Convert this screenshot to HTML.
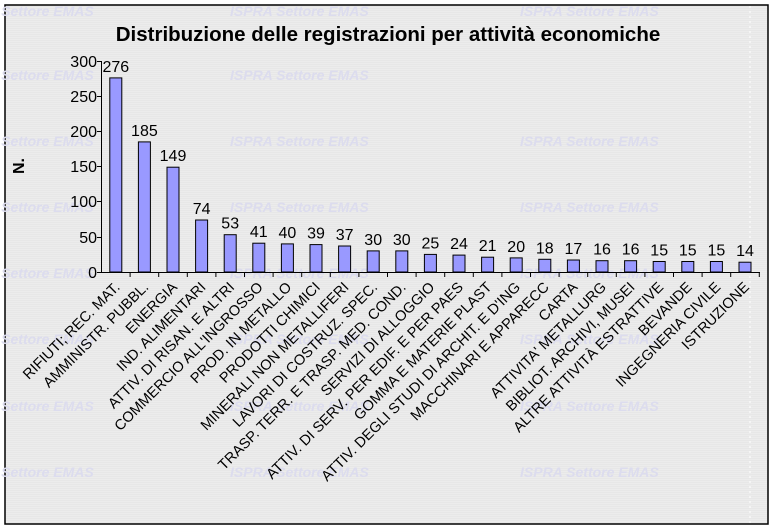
<!DOCTYPE html>
<html><head><meta charset="utf-8"><style>
html,body{margin:0;padding:0;background:#fff;}
svg{display:block;font-family:"Liberation Sans",Arial,sans-serif;}
</style></head><body>
<svg width="776" height="531" viewBox="0 0 776 531" xmlns="http://www.w3.org/2000/svg">
<defs>
<pattern id="ln" width="4" height="2" patternUnits="userSpaceOnUse">
<rect width="4" height="2" fill="#ececec"/><rect width="4" height="1" fill="#e7e7e7"/>
</pattern>
</defs>
<rect x="0" y="0" width="776" height="531" fill="#fff"/>
<rect x="5" y="5" width="763" height="519" fill="url(#ln)" stroke="#000" stroke-width="1.5"/>
<line x1="750" y1="6" x2="750" y2="523" stroke="#fff" stroke-dasharray="2,3"/>
<g font-style="italic" font-weight="bold" font-size="14" fill="#dcdcee">
<text x="-45" y="16">ISPRA Settore EMAS</text><text x="230" y="16">ISPRA Settore EMAS</text><text x="520" y="16">ISPRA Settore EMAS</text>
<text x="-45" y="80">ISPRA Settore EMAS</text><text x="230" y="80">ISPRA Settore EMAS</text>
<text x="-45" y="146">ISPRA Settore EMAS</text><text x="230" y="146">ISPRA Settore EMAS</text><text x="520" y="146">ISPRA Settore EMAS</text>
<text x="-45" y="212">ISPRA Settore EMAS</text><text x="230" y="212">ISPRA Settore EMAS</text><text x="520" y="212">ISPRA Settore EMAS</text>
<text x="-45" y="278">ISPRA Settore EMAS</text><text x="230" y="278">ISPRA Settore EMAS</text><text x="520" y="278">ISPRA Settore EMAS</text>
<text x="-45" y="344">ISPRA Settore EMAS</text><text x="230" y="344">ISPRA Settore EMAS</text><text x="520" y="344">ISPRA Settore EMAS</text>
<text x="-45" y="411">ISPRA Settore EMAS</text><text x="230" y="411">ISPRA Settore EMAS</text><text x="520" y="411">ISPRA Settore EMAS</text>
<text x="-45" y="477">ISPRA Settore EMAS</text><text x="230" y="477">ISPRA Settore EMAS</text><text x="520" y="477">ISPRA Settore EMAS</text>
</g>
<text x="388" y="41" text-anchor="middle" font-size="20.5" font-weight="bold">Distribuzione delle registrazioni per attività economiche</text>
<text transform="translate(24,166) rotate(-90)" text-anchor="middle" font-size="16" font-weight="bold">N.</text>
<g font-size="16" text-anchor="end" fill="#000">
<text x="97" y="278">0</text><text x="97" y="243">50</text><text x="97" y="207">100</text>
<text x="97" y="172">150</text><text x="97" y="137">200</text><text x="97" y="102">250</text><text x="97" y="67">300</text>
</g>
<g stroke="#000" stroke-width="1">
<line x1="101.5" y1="61" x2="101.5" y2="272"/>
<line x1="101.5" y1="272.5" x2="760" y2="272.5"/>
<line x1="97" y1="61.5" x2="101.5" y2="61.5"/><line x1="97" y1="96.5" x2="101.5" y2="96.5"/><line x1="97" y1="131.5" x2="101.5" y2="131.5"/><line x1="97" y1="166.5" x2="101.5" y2="166.5"/><line x1="97" y1="201.5" x2="101.5" y2="201.5"/><line x1="97" y1="237.5" x2="101.5" y2="237.5"/><line x1="97" y1="272.5" x2="101.5" y2="272.5"/>
<line x1="130.1" y1="272" x2="130.1" y2="277"/><line x1="158.7" y1="272" x2="158.7" y2="277"/><line x1="187.3" y1="272" x2="187.3" y2="277"/><line x1="215.9" y1="272" x2="215.9" y2="277"/><line x1="244.5" y1="272" x2="244.5" y2="277"/><line x1="273.1" y1="272" x2="273.1" y2="277"/><line x1="301.7" y1="272" x2="301.7" y2="277"/><line x1="330.3" y1="272" x2="330.3" y2="277"/><line x1="358.9" y1="272" x2="358.9" y2="277"/><line x1="387.5" y1="272" x2="387.5" y2="277"/><line x1="416.1" y1="272" x2="416.1" y2="277"/><line x1="444.7" y1="272" x2="444.7" y2="277"/><line x1="473.3" y1="272" x2="473.3" y2="277"/><line x1="501.9" y1="272" x2="501.9" y2="277"/><line x1="530.5" y1="272" x2="530.5" y2="277"/><line x1="559.1" y1="272" x2="559.1" y2="277"/><line x1="587.7" y1="272" x2="587.7" y2="277"/><line x1="616.3" y1="272" x2="616.3" y2="277"/><line x1="644.9" y1="272" x2="644.9" y2="277"/><line x1="673.5" y1="272" x2="673.5" y2="277"/><line x1="702.1" y1="272" x2="702.1" y2="277"/><line x1="730.7" y1="272" x2="730.7" y2="277"/><line x1="759.3" y1="272" x2="759.3" y2="277"/>
</g>
<g fill="#9999ff" stroke="#000" stroke-width="1">
<rect x="109.8" y="77.9" width="12" height="194.1"/>
<rect x="138.4" y="141.9" width="12" height="130.1"/>
<rect x="167.0" y="167.2" width="12" height="104.8"/>
<rect x="195.6" y="220.0" width="12" height="52.0"/>
<rect x="224.2" y="234.7" width="12" height="37.3"/>
<rect x="252.8" y="243.2" width="12" height="28.8"/>
<rect x="281.4" y="243.9" width="12" height="28.1"/>
<rect x="310.0" y="244.6" width="12" height="27.4"/>
<rect x="338.6" y="246.0" width="12" height="26.0"/>
<rect x="367.2" y="250.9" width="12" height="21.1"/>
<rect x="395.8" y="250.9" width="12" height="21.1"/>
<rect x="424.4" y="254.4" width="12" height="17.6"/>
<rect x="453.0" y="255.1" width="12" height="16.9"/>
<rect x="481.6" y="257.2" width="12" height="14.8"/>
<rect x="510.2" y="257.9" width="12" height="14.1"/>
<rect x="538.8" y="259.3" width="12" height="12.7"/>
<rect x="567.4" y="260.0" width="12" height="12.0"/>
<rect x="596.0" y="260.7" width="12" height="11.3"/>
<rect x="624.6" y="260.7" width="12" height="11.3"/>
<rect x="653.2" y="261.5" width="12" height="10.5"/>
<rect x="681.8" y="261.5" width="12" height="10.5"/>
<rect x="710.4" y="261.5" width="12" height="10.5"/>
<rect x="739.0" y="262.2" width="12" height="9.8"/>
</g>
<g font-size="16" text-anchor="middle">
<text x="115.8" y="71.9">276</text><text x="144.4" y="135.9">185</text><text x="173.0" y="161.2">149</text><text x="201.6" y="214.0">74</text><text x="230.2" y="228.7">53</text><text x="258.8" y="237.2">41</text><text x="287.4" y="237.9">40</text><text x="316.0" y="238.6">39</text><text x="344.6" y="240.0">37</text><text x="373.2" y="244.9">30</text><text x="401.8" y="244.9">30</text><text x="430.4" y="248.4">25</text><text x="459.0" y="249.1">24</text><text x="487.6" y="251.2">21</text><text x="516.2" y="251.9">20</text><text x="544.8" y="253.3">18</text><text x="573.4" y="254.0">17</text><text x="602.0" y="254.7">16</text><text x="630.6" y="254.7">16</text><text x="659.2" y="255.5">15</text><text x="687.8" y="255.5">15</text><text x="716.4" y="255.5">15</text><text x="745.0" y="256.2">14</text>
</g>
<g font-size="14.6" text-anchor="end">
<text transform="translate(120.8,288) rotate(-45)">RIFIUTI; REC. MAT.</text>
<text transform="translate(149.4,288) rotate(-45)">AMMINISTR. PUBBL.</text>
<text transform="translate(178.0,288) rotate(-45)">ENERGIA</text>
<text transform="translate(206.6,288) rotate(-45)">IND. ALIMENTARI</text>
<text transform="translate(235.2,288) rotate(-45)">ATTIV. DI RISAN. E ALTRI</text>
<text transform="translate(263.8,288) rotate(-45)">COMMERCIO ALL'INGROSSO</text>
<text transform="translate(292.4,288) rotate(-45)">PROD. IN METALLO</text>
<text transform="translate(321.0,288) rotate(-45)">PRODOTTI CHIMICI</text>
<text transform="translate(349.6,288) rotate(-45)">MINERALI NON METALLIFERI</text>
<text transform="translate(378.2,288) rotate(-45)">LAVORI DI COSTRUZ. SPEC.</text>
<text transform="translate(406.8,288) rotate(-45)">TRASP. TERR. E TRASP. MED. COND.</text>
<text transform="translate(435.4,288) rotate(-45)">SERVIZI DI ALLOGGIO</text>
<text transform="translate(464.0,288) rotate(-45)">ATTIV. DI SERV. PER EDIF. E PER PAES</text>
<text transform="translate(492.6,288) rotate(-45)">GOMMA E MATERIE PLAST</text>
<text transform="translate(521.2,288) rotate(-45)">ATTIV. DEGLI STUDI DI ARCHIT. E D'ING</text>
<text transform="translate(549.8,288) rotate(-45)">MACCHINARI E APPARECC</text>
<text transform="translate(578.4,288) rotate(-45)">CARTA</text>
<text transform="translate(607.0,288) rotate(-45)">ATTIVITA' METALLURG</text>
<text transform="translate(635.6,288) rotate(-45)">BIBLIOT. ARCHIVI, MUSEI</text>
<text transform="translate(664.2,288) rotate(-45)">ALTRE ATTIVITÀ ESTRATTIVE</text>
<text transform="translate(692.8,288) rotate(-45)">BEVANDE</text>
<text transform="translate(721.4,288) rotate(-45)">INGEGNERIA CIVILE</text>
<text transform="translate(750.0,288) rotate(-45)">ISTRUZIONE</text>
</g>
</svg>
</body></html>
